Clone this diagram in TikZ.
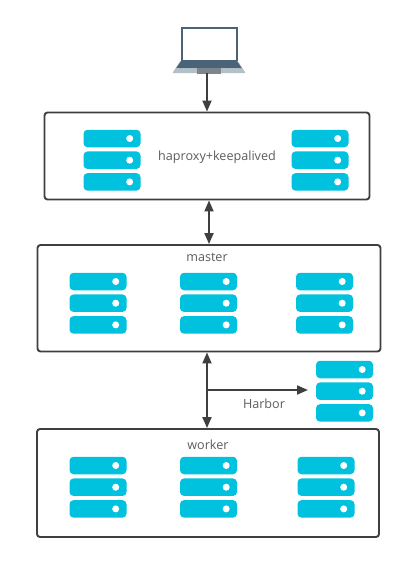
\documentclass[tikz,border=0pt]{standalone}
\usepackage{fontspec}
\setmainfont{Open Sans}
\usetikzlibrary{arrows.meta,positioning}
\definecolor{diskblue}{HTML}{00C1DE}
\definecolor{boxline}{HTML}{3F3F3F}
\definecolor{screenline}{HTML}{4A6378}
\definecolor{laptopgrey}{HTML}{B4C0C8}
\tikzstyle{cluster} = [rectangle,rounded corners=3pt,draw=boxline,line width=1.9pt,inner sep=0pt,fill=white]
\tikzstyle{disk} = [rectangle,rounded corners=4pt,fill=diskblue,minimum width=57pt,minimum height=17.5pt,inner sep=0pt]
\tikzstyle{led} = [circle,fill=white,minimum size=7pt,inner sep=0pt]
\tikzstyle{label} = [text=boxline!85,font=\fontsize{12.6}{15}\selectfont,inner sep=0pt]
\tikzstyle{arrow} = [-{Triangle[length=11pt,width=9pt]},line width=1.9pt,draw=boxline]
\tikzstyle{both} = [{Triangle[length=11pt,width=9pt]}-{Triangle[length=11pt,width=9pt]},line width=1.9pt,draw=boxline]
% one stack of three disks, #1 name, #2 centre of the top disk
\newcommand{\serverstack}[2]{
\node(#1a)[disk] at (#2) {};
\node(#1b)[disk,below=3.8pt of #1a] {};
\node(#1c)[disk,below=3.8pt of #1b] {};
\foreach \d in {a,b,c}
\node(#1\d led)[led,xshift=-11pt] at (#1\d.east) {};
}

\begin{document}
\begin{tikzpicture}[x=1pt,y=-1pt]
\useasboundingbox (0,0) rectangle (418,565);

\node(haproxy)[cluster,minimum width=325pt,minimum height=87pt] at (207,156) {};
\node(master)[cluster,minimum width=343pt,minimum height=106.5pt] at (209,298.25) {};
\node(worker)[cluster,minimum width=342pt,minimum height=108pt] at (208,483) {};

\serverstack{hl}{112,138.5}
\serverstack{hr}{320,138.5}
\serverstack{ml}{98,281.5}
\serverstack{mc}{208.5,281.5}
\serverstack{mr}{324.5,281.5}
\serverstack{wl}{98,465.5}
\serverstack{wc}{208.5,465.5}
\serverstack{wr}{326,465.5}
\serverstack{harbor}{344.5,369.5}

\node(hatext)[label] at (217,157) {haproxy+keepalived};
\node(mastertext)[label] at (207,257) {master};
\node(workertext)[label] at (208,445) {worker};
\node(harbortext)[label] at (264,404) {Harbor};

% laptop
\node(laptop)[rectangle,minimum width=73pt,minimum height=12pt,inner sep=0pt] at (209,67) {};
\fill[laptopgrey,rounded corners=1pt] (laptop.south west) -- ([xshift=8pt]laptop.north west) -- ([xshift=-8pt]laptop.north east) -- (laptop.south east) -- cycle;
\fill[screenline] ([xshift=9pt]laptop.north west) -- ([xshift=-9pt]laptop.north east) -- ([xshift=-4pt,yshift=-1pt]laptop.east) -- ([xshift=4pt,yshift=-1pt]laptop.west) -- cycle;
\draw[laptopgrey,line width=0.7pt,dash pattern=on 2pt off 1.2pt] ([xshift=7pt,yshift=-3pt]laptop.west) -- ([xshift=-7pt,yshift=-3pt]laptop.east);
\draw[laptopgrey,line width=0.7pt,dash pattern=on 2pt off 1.2pt] ([xshift=6pt,yshift=-1pt]laptop.west) -- ([xshift=-6pt,yshift=-1pt]laptop.east);
\fill[laptopgrey!70!black] ([xshift=-12pt,yshift=-1pt]laptop.center) rectangle ([xshift=12pt,yshift=-1pt]laptop.south);
\node(screen)[rectangle,draw=screenline,line width=1.5pt,fill=white,minimum width=55pt,minimum height=33pt,inner sep=0pt] at (209.5,44) {};
\fill[screenline] (screen.north west) rectangle ([yshift=-2pt]screen.north east);

\coordinate (hamaster) at (209,0);
\coordinate (masterworker) at (207,390);
\coordinate (harborend) at (308,390);

\draw[arrow] (207,0 |- laptop.south) -- (207,0 |- haproxy.north);
\draw[both] (hamaster |- haproxy.south) -- (hamaster |- master.north);
\draw[both] (masterworker |- master.south) -- (masterworker |- worker.north);
\draw[arrow] (masterworker) -- (harborend);

\end{tikzpicture}
\end{document}
